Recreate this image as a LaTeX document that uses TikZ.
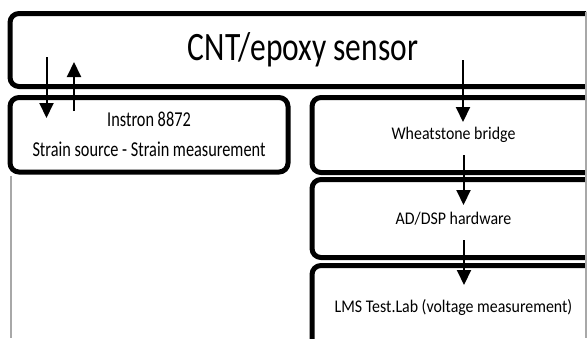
\documentclass[tikz,border=0pt]{standalone}
\usepackage{fontspec}
\setmainfont{Carlito}
\usepackage{graphicx}
\usetikzlibrary{arrows.meta}
\definecolor{framegray}{HTML}{A8A8A8}
\begin{document}
\begin{tikzpicture}[x=1pt,y=-1pt,
  box/.style={draw=black,line width=5pt,rounded corners=9pt,inner sep=0pt,fill=white,align=center},
  flow/.style={line width=2pt,-{Triangle[width=14pt,length=15pt]}},
  titletext/.style={font=\fontsize{31.5}{36}\selectfont},
  lefttext/.style={font=\fontsize{16.3}{30}\selectfont},
  righttext/.style={font=\fontsize{15.9}{20}\selectfont}
  ]
\useasboundingbox (0,0) rectangle (588,338);
\fill[white] (0,0) rectangle (588,338);
\begin{scope}
\clip (0,0) rectangle (586,338);
\node[box,titletext,minimum width=586pt,minimum height=73pt] (sensor) at (303,50)
  {\scalebox{1}[1.28]{CNT/epoxy sensor}};
\node[box,lefttext,minimum width=278pt,minimum height=74.5pt] (instron) at (149,134.75)
  {\scalebox{1}[1.3]{Instron 8872}\\\scalebox{1}[1.3]{Strain source - Strain measurement}};
\node[box,righttext,minimum width=283pt,minimum height=75pt] (wheat) at (453.5,135)
  {\scalebox{1}[1.12]{Wheatstone bridge}};
\node[box,righttext,minimum width=283pt,minimum height=78pt] (adc) at (453.5,218.5)
  {\scalebox{1}[1.12]{AD/DSP hardware}};
\node[box,righttext,minimum width=283pt,minimum height=84.5pt] (lms) at (453.5,307.75)
  {\scalebox{1}[1.12]{LMS Test.Lab (voltage measurement)}};
\end{scope}
\coordinate (a1s) at (46.5,57);
\coordinate (a1e) at (46.5,118);
\coordinate (a2s) at (74,111);
\coordinate (a2e) at (74,62);
\coordinate (a3s) at (463,60);
\coordinate (a3e) at (463,122);
\coordinate (a4s) at (463.5,155);
\coordinate (a4e) at (463.5,205);
\coordinate (a5s) at (464,240);
\coordinate (a5e) at (464,285);
\draw[flow] (a1s) -- (a1e);
\draw[flow] (a2s) -- (a2e);
\draw[flow] (a3s) -- (a3e);
\draw[flow] (a4s) -- (a4e);
\draw[flow] (a5s) -- (a5e);
\coordinate (gl1) at (11,176);
\coordinate (gl2) at (11,338);
\coordinate (gr1) at (586,12);
\coordinate (gr2) at (586,338);
\draw[framegray,line width=2.5pt] (gl1) -- (gl2);
\draw[framegray,line width=1.2pt] (gr1) -- (gr2);
\end{tikzpicture}
\end{document}
